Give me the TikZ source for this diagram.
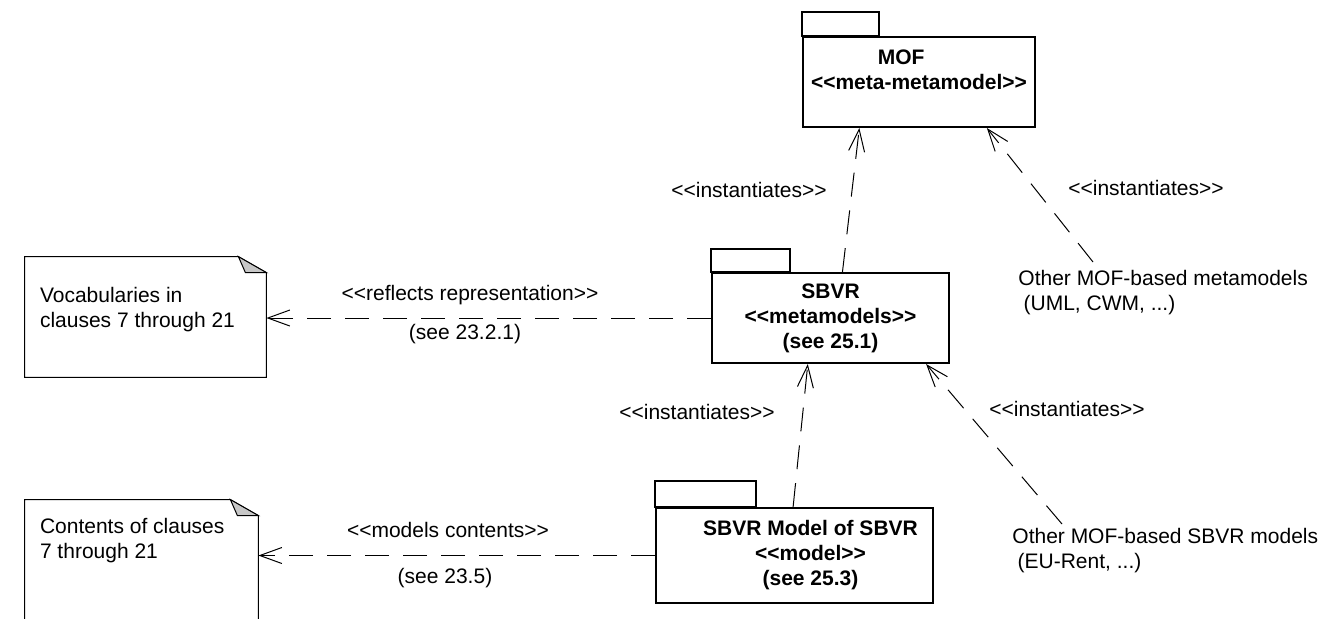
\documentclass[tikz,border=0pt]{standalone}
\usepackage{fontspec}
\setmainfont{Liberation Sans}
\usetikzlibrary{arrows.meta,positioning,calc}
\newcommand{\st}[1]{<\kern0pt<#1>\kern0pt>}

\begin{document}
\begin{tikzpicture}[x=0.5pt,y=-0.5pt,font=\fontsize{10.5}{12.5}\selectfont,
   pkg/.style={draw,line width=1pt,align=center,inner sep=0pt,font=\fontsize{10.5}{12.5}\selectfont\bfseries},
   tab/.style={draw,line width=1pt},
   note/.style={inner sep=0pt},
   noteline/.style={draw,line width=0.5pt},
   fold/.style={draw,line width=0.5pt,fill=black!22},
   txt/.style={align=left,inner sep=0pt,anchor=north west},
   lbl/.style={inner sep=1pt},
   dep/.style={line width=0.5pt,dash pattern=on 12pt off 7pt,-{Straight Barb[length=11pt,width=8pt]}}]
  \useasboundingbox (0,0) rectangle (1327,618);
  \clip (0,0) rectangle (1327,618);

  % ---- packages ----
  \node[pkg,minimum width=116pt,minimum height=45pt] (mof) at (919,82) {MOF\hspace*{1.7em}\\\st{meta-metamodel}\\\mbox{}};
  \draw[tab] (mof.north west) rectangle ++(77,-24);
  \node[pkg,minimum width=118.5pt,minimum height=45pt] (sbvr) at (830.5,318) {SBVR\\\st{metamodels}\\(see 25.1)};
  \draw[tab] (sbvr.north west) rectangle ++(79,-23);
  \node[pkg,minimum width=138.5pt,minimum height=47.5pt] (model) at (794.5,555.5) {\hspace*{16pt}SBVR Model of SBVR\\\hspace*{16pt}\st{model}\\\hspace*{16pt}(see 25.3)};
  \draw[tab] (model.north west) rectangle ++(101,-26);

  % ---- notes ----
  \node[note,minimum width=120.5pt,minimum height=60pt] (voc) at (145.5,317) {};
  \draw[noteline] (voc.south west) -- (voc.north west) -- ($(voc.north east)+(-28,0)$) -- ($(voc.north east)+(0,16)$) -- (voc.south east) -- cycle;
  \draw[fold] ($(voc.north east)+(-28,0)$) -- ($(voc.north east)+(-21,16)$) -- ($(voc.north east)+(0,16)$) -- cycle;
  \node[txt] (voctxt) at ($(voc.north west)+(15,30)$) {Vocabularies in\\clauses 7 through 21};
  \node[note,minimum width=116.5pt,minimum height=80pt] (cont) at (141.5,580) {};
  \draw[noteline] (cont.south west) -- (cont.north west) -- ($(cont.north east)+(-28,0)$) -- ($(cont.north east)+(0,16)$) -- (cont.south east);
  \draw[fold] ($(cont.north east)+(-28,0)$) -- ($(cont.north east)+(-21,16)$) -- ($(cont.north east)+(0,16)$) -- cycle;
  \node[txt] (conttxt) at ($(cont.north west)+(15,18)$) {Contents of clauses\\7 through 21};

  % ---- other models ----
  \node[txt] (othermeta) at (1018,270) {Other MOF-based metamodels\\\hspace*{0.25em}(UML, CWM, ...)};
  \node[txt] (othersbvr) at (1012,528) {Other MOF-based SBVR models\\\hspace*{0.25em}(EU-Rent, ...)};
  \coordinate (metaend) at (1093,262);
  \coordinate (sbvrend) at (1062,524);

  % ---- dependencies ----
  \draw[dep] (sbvr.west) -- (sbvr.west -| voc.east);
  \node[lbl] (refl) at (470,295) {\st{reflects representation}};
  \node[lbl] (see1) at (465,334) {(see 23.2.1)};
  \draw[dep] (model.west) -- (model.west -| cont.east);
  \node[lbl] (mcont) at (448,530) {\st{models contents}};
  \node[lbl] (see2) at (445,578) {(see 23.5)};

  \draw[dep] ($(sbvr.north west)!0.55!(sbvr.north east)$) -- ($(mof.south west)!0.245!(mof.south east)$);
  \node[lbl] (inst1) at (749,190) {\st{instantiates}};
  \draw[dep] (metaend) -- ($(mof.south west)!0.79!(mof.south east)$);
  \node[lbl] (inst2) at (1146,188) {\st{instantiates}};
  \draw[dep] ($(model.north west)!0.495!(model.north east)$) -- ($(sbvr.south west)!0.405!(sbvr.south east)$);
  \node[lbl] (inst3) at (697,412) {\st{instantiates}};
  \draw[dep] (sbvrend) -- ($(sbvr.south west)!0.9!(sbvr.south east)$);
  \node[lbl] (inst4) at (1067,409) {\st{instantiates}};
\end{tikzpicture}
\end{document}
